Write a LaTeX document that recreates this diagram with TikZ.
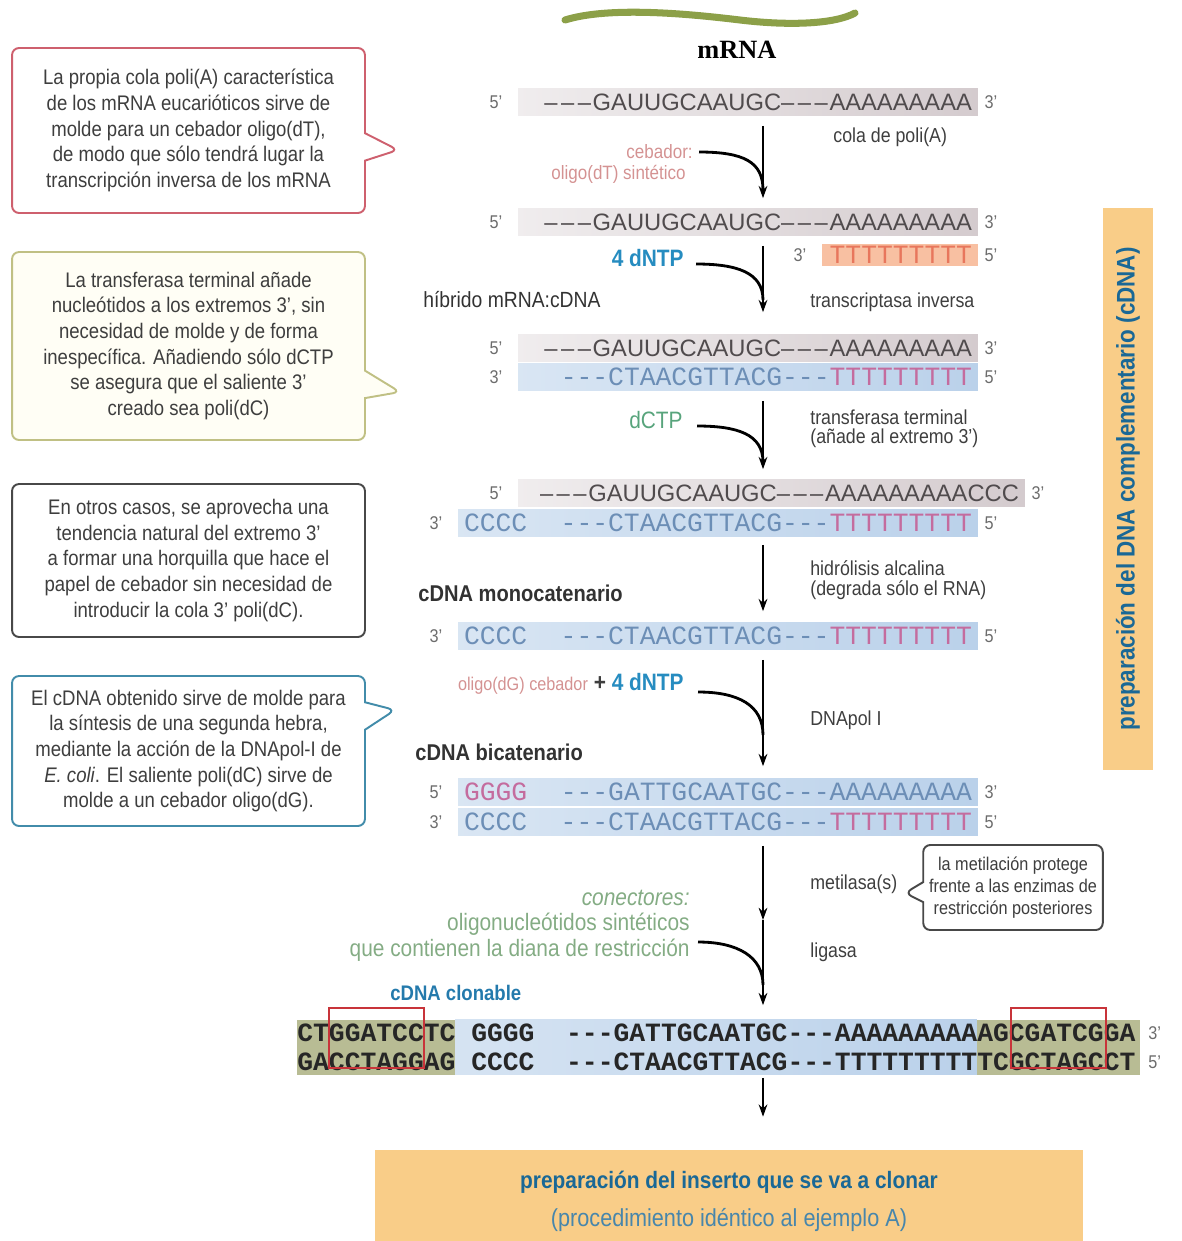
\documentclass[tikz,border=0pt]{standalone}
\usepackage{fontspec}
\setmainfont{Liberation Sans}[FakeStretch=0.88]
\newfontfamily\seqsans{Liberation Sans}
\newfontfamily\seqmono{Liberation Mono}
\newfontfamily\titlefont{Liberation Serif}
\usepackage{xcolor}
\usepackage{tikz}
\usetikzlibrary{arrows.meta, positioning, shapes.callouts, calc}

\definecolor{rnagray}{RGB}{212,203,206}
\definecolor{rnatext}{RGB}{80,75,77}
\definecolor{dnablue}{RGB}{186,209,234}
\definecolor{dnatext}{RGB}{108,142,182}
\definecolor{tpink}{RGB}{196,108,158}
\definecolor{primer}{RGB}{248,192,162}
\definecolor{primtext}{RGB}{232,118,92}
\definecolor{olive}{RGB}{184,188,148}
\definecolor{cutred}{RGB}{200,52,58}
\definecolor{ntpblue}{RGB}{38,140,192}
\definecolor{ctpgreen}{RGB}{88,164,124}
\definecolor{cebpink}{RGB}{212,146,146}
\definecolor{congreen}{RGB}{132,172,132}
\definecolor{clonblue}{RGB}{36,122,172}
\definecolor{panel}{RGB}{249,205,136}
\definecolor{panelblue}{RGB}{26,104,150}
\definecolor{wormgreen}{RGB}{140,160,72}
\definecolor{boxred}{RGB}{206,96,110}
\definecolor{boxolive}{RGB}{192,192,132}
\definecolor{boxdark}{RGB}{72,72,72}
\definecolor{boxteal}{RGB}{66,140,170}
\definecolor{labelgray}{RGB}{62,62,62}

\newcommand\rnadash{\textendash\kern2pt\textendash\kern2pt\textendash\kern1pt}
\newcommand\dnadash{-{}-{}-}

\begin{document}
\begin{tikzpicture}[x=0.02cm, y=-0.02cm,
    strand/.style={minimum height=0.54cm, inner xsep=0.12cm, inner ysep=0pt, align=right},
    rna/.style={strand, left color=rnagray!35, right color=rnagray, text=rnatext,
        font=\seqsans\fontsize{13.5}{14}\selectfont},
    dna/.style={strand, left color=dnablue!55, right color=dnablue, text=dnatext,
        font=\seqmono\fontsize{15}{15}\selectfont},
    prime/.style={inner sep=0pt, font=\fontsize{10.5}{11}\selectfont, text=gray!85!black},
    lab/.style={anchor=west, inner sep=0pt, align=left, text=labelgray,
        font=\fontsize{11.5}{11}\selectfont},
    head/.style={anchor=west, inner sep=0pt, text=labelgray!80!black,
        font=\bfseries\fontsize{13}{13}\selectfont},
    feedlab/.style={anchor=east, inner sep=0pt, font=\fontsize{11}{11}\selectfont},
    flow/.style={-{Stealth[length=7pt,width=5pt]}, line width=0.8pt},
    feed/.style={line width=1.6pt},
    box/.style={draw, fill=white, line width=1.1pt, rounded corners=4pt, align=center,
        minimum width=7.06cm, text=labelgray, font=\fontsize{12}{14.6}\selectfont},
    note/.style={box, shape=rectangle callout, callout pointer width=0.55cm},
    link/.style={fill=olive, minimum height=1.1cm, inner sep=0pt},
    cut/.style={draw=cutred, line width=1pt, minimum width=1.9cm, minimum height=1.2cm, inner sep=0pt},
    clonseq/.style={anchor=west, inner sep=0pt, font=\seqmono\bfseries\fontsize{15}{15}\selectfont, text=black!85}]

    \useasboundingbox (0,0) rectangle (1181,1241);

    \draw[wormgreen, line width=4pt, line cap=round] (565,20) .. controls (610,6) and (690,14) .. (740,20)
        .. controls (790,26) and (835,24) .. (855,13);
    \node[font=\titlefont\bfseries\fontsize{15}{15}\selectfont] (title) at (737,50) {mRNA};

    \node[rna, text width=8.96cm] (r1) at (748,102) {\rnadash GAUUGCAAUGC\rnadash AAAAAAAAA};
    \node[rna, text width=8.96cm] (r2) at (748,222) {\rnadash GAUUGCAAUGC\rnadash AAAAAAAAA};
    \node[strand, fill=primer, text=primtext, minimum height=0.44cm, text width=2.88cm,
        font=\seqmono\fontsize{15}{15}\selectfont] (pr) at (900,255) {TTTTTTTTT};
    \node[rna, text width=8.96cm] (r3) at (748,348) {\rnadash GAUUGCAAUGC\rnadash AAAAAAAAA};
    \node[dna, text width=8.96cm] (r4) at (748,377) {\dnadash CTAACGTTACG\dnadash\textcolor{tpink}{TTTTTTTTT}};
    \node[rna, text width=9.9cm] (r5) at (771.5,493) {\rnadash GAUUGCAAUGC\rnadash AAAAAAAAACCC};
    \node[dna, text width=10.16cm] (r6) at (718,523) {CCCC\hfill\dnadash CTAACGTTACG\dnadash\textcolor{tpink}{TTTTTTTTT}};
    \node[dna, text width=10.16cm] (r7) at (718,636) {CCCC\hfill\dnadash CTAACGTTACG\dnadash\textcolor{tpink}{TTTTTTTTT}};
    \node[dna, text width=10.16cm] (r8) at (718,792) {\textcolor{tpink}{GGGG}\hfill\dnadash GATTGCAATGC\dnadash AAAAAAAAA};
    \node[dna, text width=10.16cm] (r9) at (718,822) {CCCC\hfill\dnadash CTAACGTTACG\dnadash\textcolor{tpink}{TTTTTTTTT}};

    \foreach \r/\a/\b in {r1/5/3, r2/5/3, pr/3/5, r3/5/3, r4/3/5, r5/5/3, r6/3/5, r7/3/5, r8/5/3, r9/3/5} {
        \node[prime, left=0.3cm of \r] (\r a) {\a'};
        \node[prime, right=0.12cm of \r] (\r b) {\b'};
    }

    \node[link, minimum width=3.16cm] (lk1) at (376,1047) {};
    \node[left color=dnablue!60, right color=dnablue, minimum width=10.44cm,
        minimum height=1.1cm, inner sep=0pt] (mid) at (716,1047) {};
    \node[link, minimum width=3.26cm] (lk2) at (1058.5,1047) {};
    \node[clonseq] (s10) at (297,1033) {CTGGATCCTC GGGG~~\dnadash GATTGCAATGC\dnadash AAAAAAAAAAGCGATCGGA};
    \node[clonseq] (s11) at (297,1062) {GACCTAGGAG CCCC~~\dnadash CTAACGTTACG\dnadash TTTTTTTTTTCGCTAGCCT};
    \node[cut] (cut1) at (376.3,1038) {};
    \node[cut] (cut2) at (1058.3,1038) {};
    \node[prime, anchor=west] (s10b) at (1148,1033) {3'};
    \node[prime, anchor=west] (s11b) at (1148,1062) {5'};

    \node[lab] (cola) at (833,137) {cola de poli(A)};
    \node[lab] (rt) at (810,302) {transcriptasa inversa};
    \node[lab] (tdt) at (810,429) {transferasa terminal\\(añade al extremo 3')};
    \node[lab] (hid) at (810,580) {hidrólisis alcalina\\(degrada sólo el RNA)};
    \node[lab] (pol) at (810,720) {DNApol I};
    \node[lab] (met) at (810,884) {metilasa(s)};
    \node[lab] (lig) at (810,952) {ligasa};

    \node[head, font=\fontsize{12.5}{13}\selectfont] (hib) at (423,300) {híbrido mRNA:cDNA};
    \node[head] (mono) at (418,593) {cDNA monocatenario};
    \node[head] (bica) at (415,752) {cDNA bicatenario};
    \node[head, text=clonblue, font=\bfseries\fontsize{12}{12}\selectfont] (clon) at (390,993) {cDNA clonable};

    \node[feedlab, text=cebpink] (ceb1) at (693,152) {cebador:};
    \node[feedlab, text=cebpink] (ceb2) at (686,174) {oligo(dT) sintético};
    \node[feedlab, text=ntpblue, font=\bfseries\fontsize{13.5}{14}\selectfont] (ntp) at (684,258) {4 dNTP};
    \node[feedlab, text=ctpgreen, font=\fontsize{13.5}{14}\selectfont] (ctp) at (683,420) {dCTP};
    \node[feedlab, font=\bfseries\fontsize{13.5}{14}\selectfont] (olg) at (684,684)
        {{\color{cebpink}\mdseries\fontsize{10.5}{11}\selectfont oligo(dG) cebador} {\color{labelgray}+} {\color{ntpblue}4 dNTP}};
    \node[feedlab, text=congreen, font=\itshape\fontsize{13.5}{14}\selectfont] (con1) at (690,898) {conectores:};
    \node[feedlab, text=congreen, font=\fontsize{13.5}{14}\selectfont] (con2) at (690,924) {oligonucleótidos sintéticos};
    \node[feedlab, text=congreen, font=\fontsize{13.5}{14}\selectfont] (con3) at (690,950) {que contienen la diana de restricción};

    \coordinate (j1) at (763,190);
    \coordinate (j2) at (763,300);
    \coordinate (j3) at (763,462);
    \coordinate (j4) at (763,735);
    \coordinate (j5) at (763,985);
    \coordinate (m1) at (763,920);

    \draw[flow] ($(r1.south -| j1)+(0,10)$) -- ($(r2.north -| j1)+(0,-10)$);
    \draw[flow] ($(r2.south -| j2)+(0,10)$) -- ($(r3.north -| j2)+(0,-22)$);
    \draw[flow] ($(r4.south -| j3)+(0,10)$) -- ($(r5.north -| j3)+(0,-10)$);
    \draw[flow] ($(r6.south -| j3)+(0,8)$) -- ($(r7.north -| j3)+(0,-11)$);
    \draw[flow] ($(r7.south -| j4)+(0,10)$) -- ($(r8.north -| j4)+(0,-12)$);
    \draw[flow] ($(r9.south -| j5)+(0,10)$) -- (m1);
    \draw[flow] (m1) -- ($(mid.north -| j5)+(0,-14)$);

    \draw[feed] ($(ceb1.east)+(6,0)$) .. controls +(45,0) and +(0,-28) .. (j1);
    \draw[feed] ($(ntp.east)+(12,6)$) .. controls +(40,0) and +(0,-28) .. (j2);
    \draw[feed] ($(ctp.east)+(14,6)$) .. controls +(40,0) and +(0,-28) .. (j3);
    \draw[feed] ($(olg.east)+(14,8)$) .. controls +(40,0) and +(0,-30) .. (j4);
    \draw[feed] ($(con3.east)+(8,-8)$) .. controls +(40,0) and +(0,-28) .. (j5);

    \node[note, draw=boxred, minimum height=3.3cm, callout absolute pointer={(398,150)}] (c1) at (188.5,130.5)
        {La propia cola poli(A) característica\\de los mRNA eucarióticos sirve de\\molde para un cebador oligo(dT),\\de modo que sólo tendrá lugar la\\transcripción inversa de los mRNA};
    \node[note, draw=boxolive, fill=yellow!4, minimum height=3.76cm, callout absolute pointer={(400,392)}] (c2) at (188.5,346)
        {La transferasa terminal añade\\nucleótidos a los extremos 3', sin\\necesidad de molde y de forma\\inespecífica. Añadiendo sólo dCTP\\se asegura que el saliente 3'\\creado sea poli(dC)};
    \node[box, draw=boxdark, minimum height=3.06cm] (c3) at (188.5,560.5)
        {En otros casos, se aprovecha una\\tendencia natural del extremo 3'\\a formar una horquilla que hace el\\papel de cebador sin necesidad de\\introducir la cola 3' poli(dC).};
    \node[note, draw=boxteal, minimum height=3cm, callout absolute pointer={(395,710)}] (c4) at (188.5,751)
        {El cDNA obtenido sirve de molde para\\la síntesis de una segunda hebra,\\mediante la acción de la DNApol-I de\\\textit{E. coli}. El saliente poli(dC) sirve de\\molde a un cebador oligo(dG).};
    \node[note, draw=boxdark, minimum width=3.48cm, minimum height=1.7cm, callout pointer width=0.4cm,
        font=\fontsize{10.5}{12.7}\selectfont, callout absolute pointer={(905,893)}] (c5) at (1013,887.5)
        {la metilación protege\\frente a las enzimas de\\restricción posteriores};

    \node[fill=panel, rotate=90, minimum width=11.24cm, minimum height=1cm, text=panelblue,
        font=\bfseries\fontsize{14.5}{15}\selectfont] (side) at (1128,489) {preparación del DNA complementario (cDNA)};

    \node[fill=panel, minimum width=14.16cm, minimum height=1.82cm, inner sep=0pt] (ins) at (729,1195.5) {};
    \node[text=panelblue, font=\bfseries\fontsize{13.5}{14}\selectfont] (ins1) at (729,1182) {preparación del inserto que se va a clonar};
    \node[text=panelblue!80, font=\fontsize{14}{14}\selectfont] (ins2) at (729,1220) {(procedimiento idéntico al ejemplo A)};

    \draw[flow] ($(mid.south -| j5)+(0,3)$) -- ($(ins.north -| j5)+(0,-33)$);
\end{tikzpicture}
\end{document}
